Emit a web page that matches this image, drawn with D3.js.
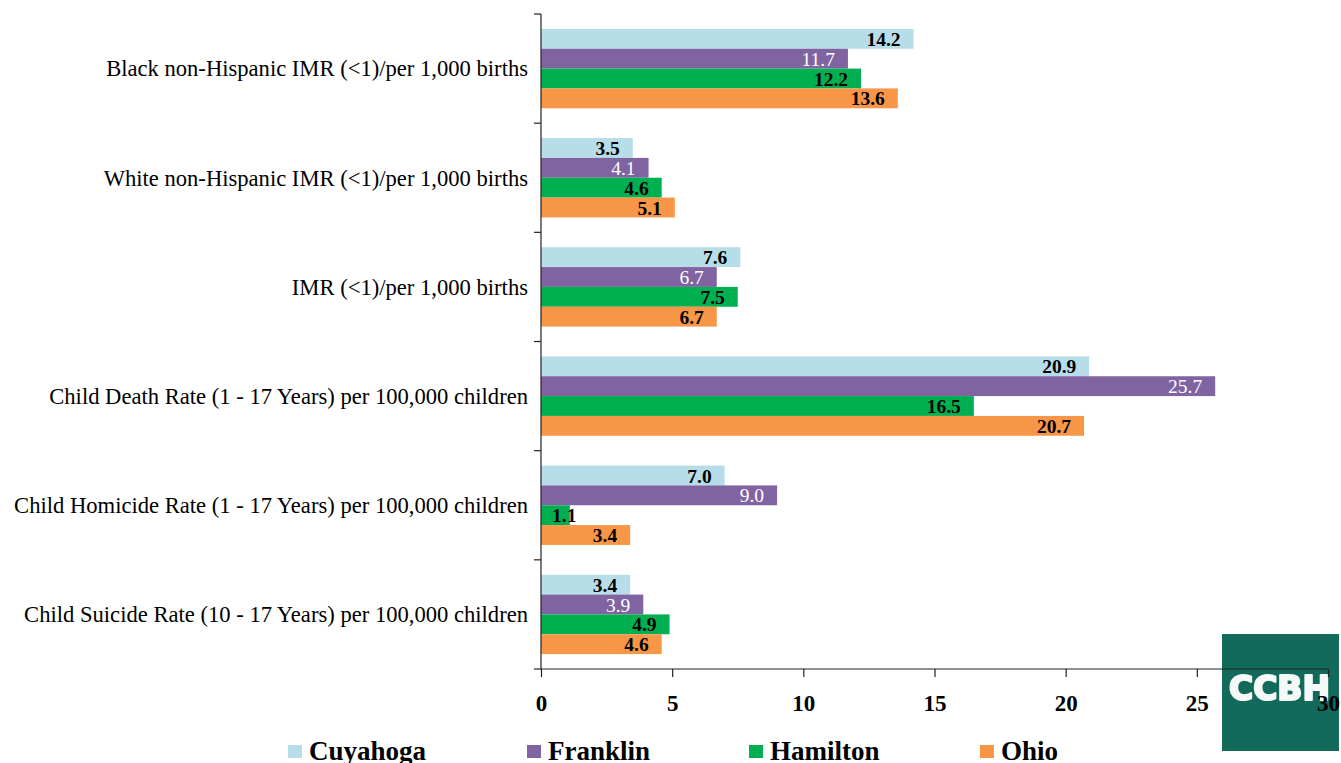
<!DOCTYPE html>
<html>
<head>
<meta charset="utf-8">
<script src="https://cdn.jsdelivr.net/npm/d3@7"></script>
<style>
  html, body { margin: 0; padding: 0; background: #fff; }
  svg { display: block; }
</style>
</head>
<body>
<svg id="chart" width="1341" height="763"></svg>
<script>
// Indicator rows, top to bottom
const categories = [
  "Black non-Hispanic IMR (<1)/per 1,000 births",
  "White non-Hispanic IMR (<1)/per 1,000 births",
  "IMR (<1)/per 1,000 births",
  "Child Death Rate (1 - 17 Years) per 100,000 children",
  "Child Homicide Rate (1 - 17 Years) per 100,000 children",
  "Child Suicide Rate (10 - 17 Years) per 100,000 children"
];
const seriesNames = ["Cuyahoga", "Franklin", "Hamilton", "Ohio"];
const cuyahoga = [14.2, 3.5, 7.6, 20.9, 7.0, 3.4];
const franklin = [11.7, 4.1, 6.7, 25.7, 9.0, 3.9];
const hamilton = [12.2, 4.6, 7.5, 16.5, 1.1, 4.9];
const ohio     = [13.6, 5.1, 6.7, 20.7, 3.4, 4.6];
const xTicks = [0, 5, 10, 15, 20, 25, 30];

const seriesValues = [cuyahoga, franklin, hamilton, ohio];
const colors = ["#b7dde8", "#8064a2", "#00b050", "#f79646"];
const labelFill = ["#000", "#fff", "#000", "#000"];
const labelWeight = ["bold", "normal", "bold", "bold"];

const svg = d3.select("#chart");
const serif = "'Liberation Serif', 'Times New Roman', serif";

const x = d3.scaleLinear().domain([0, 30]).range([541, 1328]);
const y = d3.scaleBand().domain(categories).range([14, 669])
  .paddingInner(0.273).paddingOuter(0.1365);
const ySub = d3.scaleBand().domain(seriesNames).range([0, y.bandwidth()]);

// Logo block at lower right (axis is drawn over it)
const logo = svg.append("g");
logo.append("rect")
  .attr("x", 1222).attr("y", 634).attr("width", 117).attr("height", 117)
  .attr("fill", "#126b5a");
logo.append("text")
  .attr("x", 1229).attr("y", 700)
  .attr("font-family", "'DejaVu Sans', sans-serif")
  .attr("font-weight", "bold")
  .attr("font-size", 33)
  .attr("fill", "#f4f8f6")
  .attr("stroke", "#f4f8f6")
  .attr("stroke-width", 2.2)
  .attr("stroke-linejoin", "round")
  .attr("textLength", 101)
  .attr("lengthAdjust", "spacingAndGlyphs")
  .style("filter", "blur(0.6px)")
  .text("CCBH");

// Bars
const groups = svg.append("g").selectAll("g")
  .data(categories)
  .join("g")
  .attr("transform", d => `translate(0,${y(d)})`);

seriesNames.forEach((s, si) => {
  groups.append("rect")
    .attr("x", x(0))
    .attr("y", ySub(s))
    .attr("width", (d, i) => x(seriesValues[si][i]) - x(0))
    .attr("height", ySub.bandwidth())
    .attr("fill", colors[si]);
  groups.append("text")
    .attr("y", ySub(s) + ySub.bandwidth() / 2)
    .attr("dy", "0.36em")
    .attr("font-family", serif)
    .attr("font-size", 19.5)
    .attr("font-weight", labelWeight[si])
    .attr("fill", labelFill[si])
    .text((d, i) => seriesValues[si][i].toFixed(1))
    .each(function(d, i) {
      // inside-end label; short bars push the label right of the axis
      const w = this.getComputedTextLength();
      const end = x(seriesValues[si][i]) - 13;
      const start = Math.max(end - w, x(0) + 11);
      d3.select(this).attr("x", start);
    });
});

// Y axis: ticks at band boundaries, category labels centred in each band
const yAxis = svg.append("g");
yAxis.append("line")
  .attr("x1", x(0)).attr("x2", x(0))
  .attr("y1", 14).attr("y2", 669)
  .attr("stroke", "#222").attr("stroke-width", 1.2);
const boundaries = d3.range(categories.length + 1).map(i => 14 + i * y.step());
yAxis.selectAll("line.tk").data(boundaries).join("line")
  .attr("class", "tk")
  .attr("x1", x(0) - 7).attr("x2", x(0))
  .attr("y1", d => d).attr("y2", d => d)
  .attr("stroke", "#222").attr("stroke-width", 1.2);
yAxis.selectAll("text").data(categories).join("text")
  .attr("x", 528)
  .attr("y", d => y(d) + y.bandwidth() / 2)
  .attr("dy", "0.35em")
  .attr("text-anchor", "end")
  .attr("font-family", serif)
  .attr("font-size", 22.6)
  .attr("fill", "#000")
  .text(d => d);

// X axis
const xAxis = svg.append("g").attr("transform", "translate(0,669)")
  .call(d3.axisBottom(x).tickValues(xTicks).tickSize(8).tickPadding(18).tickFormat(d3.format("d")));
xAxis.select(".domain").attr("stroke", "#222").attr("stroke-width", 1.2)
  .attr("d", `M${x(0)},0H${x(30)}`);
xAxis.selectAll(".tick line").attr("stroke", "#222").attr("stroke-width", 1.2);
xAxis.selectAll(".tick text")
  .attr("font-family", serif)
  .attr("font-size", 23)
  .attr("font-weight", "bold")
  .attr("fill", "#000");

// Legend
const legendX = [288, 527, 749, 980];
const legend = svg.append("g").selectAll("g")
  .data(seriesNames)
  .join("g")
  .attr("transform", (d, i) => `translate(${legendX[i]},745)`);
legend.append("rect")
  .attr("width", 14).attr("height", 13)
  .attr("fill", (d, i) => colors[i]);
legend.append("text")
  .attr("x", 21).attr("y", 15)
  .attr("font-family", serif)
  .attr("font-size", 27)
  .attr("font-weight", "bold")
  .attr("fill", "#000")
  .text(d => d);
</script>
</body>
</html>
